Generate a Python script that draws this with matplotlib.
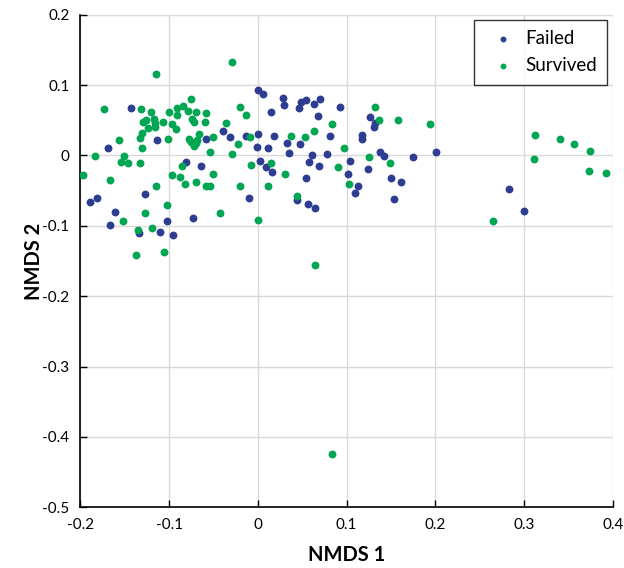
import matplotlib
matplotlib.use("Agg")
import matplotlib.pyplot as plt

# NMDS scores
failed_x = [-0.1433, -0.1135, -0.1691, -0.0806, -0.0646, -0.127, -0.1897, -0.1819, -0.1613, -0.0736,
            -0.1024, -0.1665, -0.1337, -0.1109, -0.0956, 0.0, 0.0056, 0.0287, 0.0291, 0.0485,
            0.0541, 0.0462, 0.0627, 0.0703, 0.0149, -0.0396, -0.059, -0.0318, -0.0139, 0.0,
            0.0179, 0.0681, -0.0011, 0.0108, 0.0331, 0.0477, 0.0354, 0.0608, 0.0929, 0.1258,
            0.1325, 0.131, 0.0817, 0.1176, 0.1176, 0.0778, 0.1377, 0.1422, 0.175, 0.2004,
            0.1034, 0.0026, 0.0096, 0.0163, 0.0544, 0.0694, 0.044, 0.056, 0.0642, -0.0097,
            0.058, 0.1011, 0.1123, 0.1093, 0.1243, 0.1504, 0.1613, 0.153, 0.2825, 0.3004]
failed_y = [0.0681, 0.0215, 0.0109, -0.0086, -0.0149, -0.0554, -0.0658, -0.0607, -0.0797, -0.0883,
            -0.0936, -0.0987, -0.1097, -0.1093, -0.113, 0.093, 0.0877, 0.081, 0.072, 0.0767,
            0.0791, 0.0681, 0.0738, 0.0805, 0.0615, 0.0352, 0.0233, 0.0262, 0.028, 0.03,
            0.028, 0.0565, 0.0123, 0.0109, 0.018, 0.0162, 0.004, 0.0011, 0.0687, 0.0548,
            0.0458, 0.0401, 0.028, 0.029, 0.0229, 0.0019, 0.0043, -0.0014, -0.0024, 0.0043,
            -0.0074, -0.0082, -0.0167, -0.0239, -0.0325, -0.0153, -0.0629, -0.0692, -0.0744, -0.0607,
            -0.0089, -0.0258, -0.0429, -0.0535, -0.0186, -0.0325, -0.0378, -0.0625, -0.0482, -0.0793]

survived_x = [-0.0288, -0.1147, -0.1736, -0.1315, -0.1203, -0.0997, -0.0915, -0.0848, -0.0753, -0.0792,
              -0.0697, -0.0915, -0.1292, -0.1265, -0.1172, -0.1165, -0.1161, -0.1072, -0.1243, -0.0971,
              -0.0929, -0.0739, -0.0721, -0.131, -0.1326, -0.1012, -0.1568, -0.0777, -0.075, -0.0721,
              -0.0683, -0.0666, -0.0694, -0.131, -0.1833, -0.1505, -0.1542, -0.146, -0.1326, -0.0859,
              -0.1968, -0.1669, -0.0971, -0.0873, -0.0817, -0.0699, -0.1147, -0.127, -0.1024, -0.1516,
              -0.1352, -0.1191, -0.1377, -0.1064, -0.0206, -0.0139, -0.059, -0.0601, -0.0355, -0.0504,
              -0.0094, 0.0373, 0.0533, 0.0627, -0.0221, -0.0545, -0.0288, 0.1325, 0.1366, 0.1582,
              0.1941, 0.0832, 0.0966, 0.1254, -0.0504, -0.059, -0.0545, -0.0206, -0.0083, 0.0149,
              0.0302, 0.0108, 0.044, -0.0426, 0.0, 0.0903, 0.1026, 0.1489, 0.3128, 0.3404,
              0.3564, 0.3744, 0.3113, 0.3729, 0.3923, 0.265, 0.0642, 0.0832]
survived_y = [0.133, 0.116, 0.0667, 0.0667, 0.0615, 0.0615, 0.0681, 0.0705, 0.0803, 0.0634,
              0.0615, 0.0581, 0.0481, 0.0509, 0.0524, 0.0466, 0.0401, 0.0481, 0.0386, 0.0443,
              0.0372, 0.0512, 0.0474, 0.0323, 0.0247, 0.0229, 0.0215, 0.0229, 0.0195, 0.014,
              0.0219, 0.0305, 0.0172, 0.0109, -0.001, -0.001, -0.0086, -0.0114, -0.01, -0.0153,
              -0.0272, -0.0343, -0.0272, -0.031, -0.0411, -0.0378, -0.0429, -0.0815, -0.0711, -0.0936,
              -0.1059, -0.1026, -0.1408, -0.1373, 0.0687, 0.0581, 0.0601, 0.0476, 0.0458, 0.0262,
              0.0262, 0.028, 0.0262, 0.0348, 0.0162, 0.0054, 0.0019, 0.0687, 0.0509, 0.0509,
              0.0443, 0.0443, 0.0109, -0.0027, -0.0258, -0.0429, -0.0429, -0.0429, -0.0134, -0.01,
              -0.0258, -0.0429, -0.0572, -0.0815, -0.0921, -0.0167, -0.0411, -0.0114, 0.0286, 0.0233,
              0.0162, 0.0057, -0.0049, -0.022, -0.0253, -0.0936, -0.1555, -0.4245]

xticks = [-0.2, -0.1, 0, 0.1, 0.2, 0.3, 0.4]
yticks = [-0.5, -0.4, -0.3, -0.2, -0.1, 0, 0.1, 0.2]

plt.rcParams['font.family'] = ['Lato', 'DejaVu Sans']

fig = plt.figure(figsize=(6.24, 5.68), dpi=100)
ax = fig.add_axes([0.129, 0.107, 0.853, 0.867])

ax.scatter(failed_x, failed_y, s=32, color='#2e3d91', label='Failed', zorder=3, linewidths=0)
ax.scatter(survived_x, survived_y, s=32, color='#00a651', label='Survived', zorder=3, linewidths=0)

ax.set_xlim(-0.2, 0.4)
ax.set_ylim(-0.5, 0.2)
ax.set_xticks(xticks)
ax.set_xticklabels([('%g' % t) for t in xticks])
ax.set_yticks(yticks)
ax.set_yticklabels([('%g' % t) for t in yticks])
ax.grid(True, color='#d9d9d9', linewidth=1, zorder=0)
ax.set_axisbelow(True)

for side in ['top', 'right']:
    ax.spines[side].set_visible(False)
for side in ['left', 'bottom']:
    ax.spines[side].set_color('black')
    ax.spines[side].set_linewidth(1.2)

ax.tick_params(direction='in', length=5, width=1, labelsize=11, colors='black', pad=8)

ax.set_xlabel('NMDS 1', fontsize=14.5, fontweight='bold', labelpad=9)
ax.set_ylabel('NMDS 2', fontsize=14.5, fontweight='bold', labelpad=-1)

leg = ax.legend(loc='upper right', fontsize=13.5, frameon=True, fancybox=False,
                markerscale=0.75, handletextpad=0.2, borderpad=0.55, labelspacing=0.55,
                borderaxespad=0, bbox_to_anchor=(0.99, 0.99))
leg.get_frame().set_edgecolor('black')
leg.get_frame().set_linewidth(1)

fig.savefig('out.png', dpi=100)
